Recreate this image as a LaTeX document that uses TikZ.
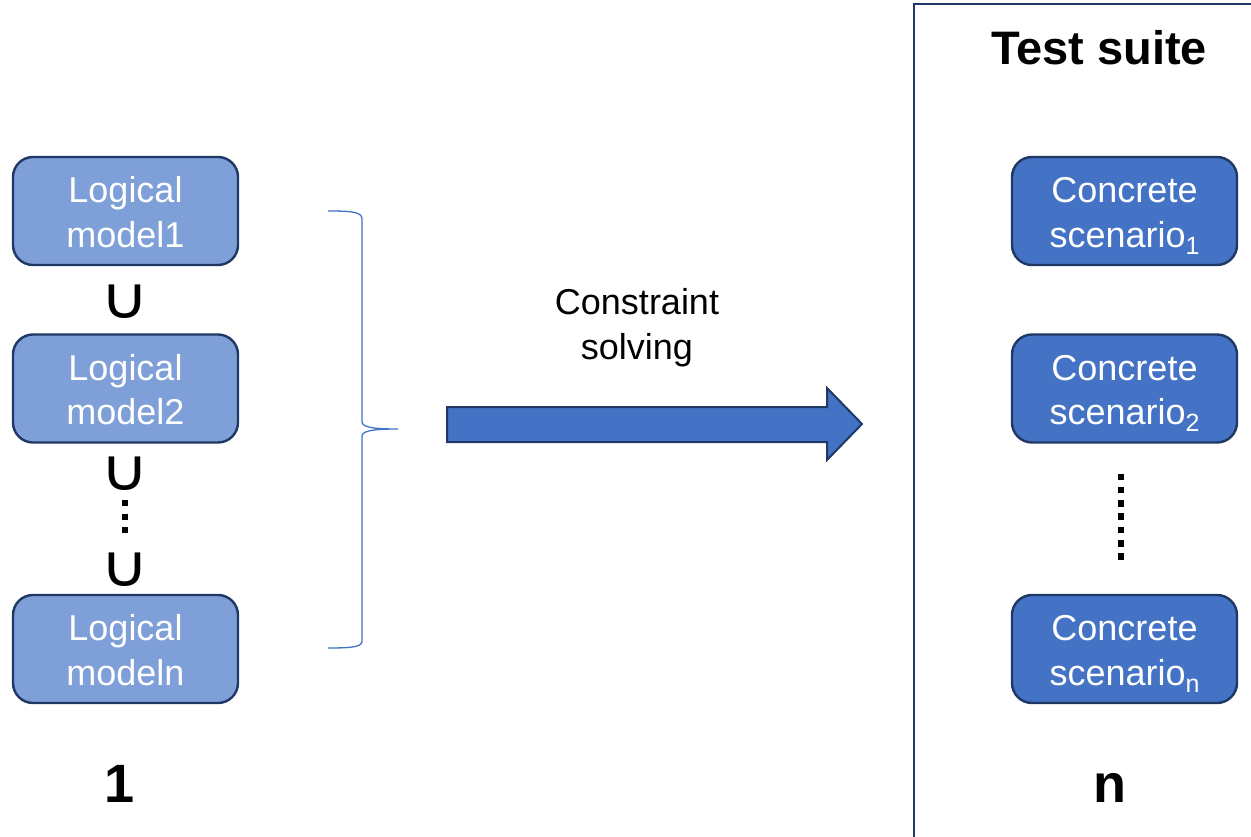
\documentclass[tikz,border=0pt]{standalone}
\usepackage{fontspec}
\setmainfont{Liberation Sans}
\newfontfamily\symfont{DejaVu Sans}
\definecolor{navy}{HTML}{1F3864}
\definecolor{accent}{HTML}{4472C4}
\definecolor{lightaccent}{HTML}{7F9FD8}
\newcommand{\lowsub}[1]{\raisebox{-7pt}{\fontsize{25}{25}\selectfont #1}}
% two centred lines, set slightly low inside their node
\newcommand{\twolines}[2]{\begin{tabular}{@{}c@{}}#1\\#2\\[-10pt]\end{tabular}}
\begin{document}
\begin{tikzpicture}[x=1pt,y=-1pt,
  box/.style={draw=navy, line width=2.4pt, rounded corners=20pt,
    minimum width=225pt, minimum height=108pt, inner sep=0pt,
    text=white, font=\fontsize{36}{44.5}\selectfont},
  logicbox/.style={box, fill=lightaccent},
  concretebox/.style={box, fill=accent},
  label/.style={inner sep=0pt, font=\fontsize{36}{44.5}\selectfont},
  biglabel/.style={inner sep=0pt, font=\fontsize{54}{60}\selectfont\bfseries},
  unionsym/.style={inner sep=0pt, font=\symfont\fontsize{58}{58}\selectfont},
  dots/.style={line width=6.5pt, dash pattern=on 6.5pt off 6.83pt}
]
\useasboundingbox (0,0) rectangle (1251,837);

% test suite frame
\draw[navy, line width=2.4pt] (914,840) -- (914,4) -- (1255,4);
\node[inner sep=0pt, font=\fontsize{47}{50}\selectfont\bfseries] (suite) at (1099,48) {Test suite};

% logical models
\node[logicbox] (lm1) at (125.5,211) {\twolines{Logical}{model1}};
\node[logicbox] (lm2) at (125.5,388.5) {\twolines{Logical}{model2}};
\node[logicbox] (lmn) at (125.5,649) {\twolines{Logical}{modeln}};

\node[unionsym] (u1) at (125,302) {\scalebox{1.15}[1]{∪}};
\node[unionsym] (u2) at (125,474) {\scalebox{1.15}[1]{∪}};
\node[unionsym] (u3) at (125,570) {\scalebox{1.15}[1]{∪}};
\coordinate (ld1) at (125,500);
\coordinate (ld2) at (125,533.5);
\draw[line width=6pt, dash pattern=on 6pt off 7.5pt] (ld1) -- (ld2);

% brace grouping the logical models
\draw[accent, line width=1.3pt]
  (328,211) .. controls (352,211) and (362,212) .. (362,219)
  -- (362,422) .. controls (362,428) and (378,429) .. (398,429)
  .. controls (378,429) and (362,430) .. (362,436)
  -- (362,641) .. controls (362,647) and (352,648) .. (328,648);

% solving arrow
\node[label] (solve) at (637,323) {\twolines{Constraint}{solving}};
\draw[fill=accent, draw=navy, line width=2pt]
  (447,407) -- (827,407) -- (827,388) -- (862,424) -- (827,460)
  -- (827,442) -- (447,442) -- cycle;

% concrete scenarios
\node[concretebox] (cs1) at (1124.5,211) {\twolines{Concrete}{scenario\lowsub{1}}};
\node[concretebox] (cs2) at (1124.5,388.5) {\twolines{Concrete}{scenario\lowsub{2}}};
\node[concretebox] (csn) at (1124.5,649) {\twolines{Concrete}{scenario\lowsub{n}}};
\coordinate (rd1) at (1121,473.5);
\coordinate (rd2) at (1121,560);
\draw[dots] (rd1) -- (rd2);

% cardinalities
\node[biglabel] (one) at (120,784) {1};
\node[biglabel] (en) at (1110,788) {n};
\end{tikzpicture}
\end{document}
